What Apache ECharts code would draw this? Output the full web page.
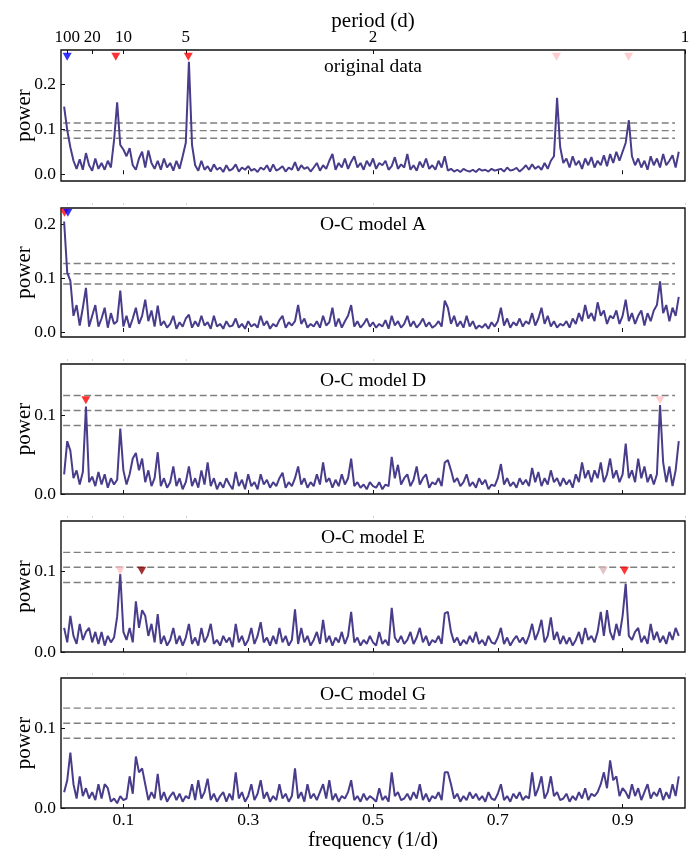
<!DOCTYPE html>
<html><head><meta charset="utf-8">
<script src="https://cdn.jsdelivr.net/npm/echarts@6/dist/echarts.min.js"></script>
<style>html,body{margin:0;padding:0;background:#fff}#c{width:697px;height:849px}</style>
</head><body><div id="c"></div>
<script>
// ---------- DATA ----------
// frequency grid of the periodograms (1/d): 0.005 ... 0.990, step 0.005
const freqStart = 0.005, freqStep = 0.005, freqCount = 198;

const powerOriginal = [
0.150,0.098,0.060,0.030,0.012,0.033,0.010,0.047,0.020,0.008,
0.035,0.012,0.025,0.010,0.030,0.015,0.075,0.160,0.065,0.055,
0.040,0.058,0.020,0.010,0.035,0.050,0.015,0.053,0.025,0.012,
0.030,0.010,0.035,0.015,0.025,0.008,0.030,0.012,0.040,0.070,
0.250,0.065,0.020,0.008,0.030,0.010,0.018,0.006,0.022,0.010,
0.015,0.005,0.020,0.008,0.012,0.022,0.006,0.015,0.010,0.018,
0.008,0.012,0.005,0.015,0.010,0.020,0.006,0.022,0.008,0.012,
0.018,0.006,0.015,0.010,0.027,0.008,0.020,0.012,0.016,0.006,
0.015,0.025,0.008,0.020,0.012,0.030,0.045,0.010,0.025,0.015,
0.035,0.012,0.028,0.040,0.015,0.025,0.010,0.030,0.018,0.035,
0.012,0.025,0.020,0.030,0.010,0.018,0.038,0.012,0.022,0.015,
0.045,0.010,0.020,0.008,0.028,0.015,0.035,0.012,0.020,0.010,
0.030,0.015,0.040,0.008,0.012,0.006,0.010,0.005,0.012,0.008,
0.006,0.010,0.005,0.012,0.008,0.010,0.006,0.012,0.008,0.010,
0.012,0.006,0.015,0.008,0.010,0.014,0.006,0.012,0.020,0.010,
0.022,0.012,0.018,0.010,0.025,0.012,0.030,0.040,0.170,0.060,
0.025,0.035,0.015,0.040,0.020,0.030,0.012,0.035,0.020,0.038,
0.015,0.030,0.020,0.042,0.018,0.045,0.025,0.050,0.030,0.050,
0.070,0.120,0.040,0.020,0.035,0.015,0.030,0.010,0.040,0.020,
0.035,0.015,0.045,0.020,0.030,0.042,0.015,0.050];

const powerModelA = [
0.205,0.110,0.095,0.030,0.050,0.012,0.045,0.082,0.010,0.030,
0.050,0.010,0.025,0.045,0.008,0.035,0.015,0.020,0.077,0.010,
0.030,0.008,0.025,0.045,0.015,0.030,0.060,0.020,0.040,0.010,
0.049,0.012,0.020,0.008,0.015,0.030,0.006,0.018,0.010,0.025,
0.032,0.008,0.020,0.010,0.030,0.012,0.018,0.006,0.030,0.010,
0.015,0.006,0.020,0.010,0.012,0.025,0.008,0.015,0.006,0.020,
0.010,0.015,0.008,0.030,0.012,0.020,0.006,0.015,0.010,0.022,
0.030,0.008,0.018,0.012,0.020,0.050,0.015,0.025,0.008,0.015,
0.010,0.020,0.008,0.030,0.012,0.018,0.045,0.010,0.025,0.008,
0.020,0.030,0.050,0.010,0.020,0.008,0.015,0.025,0.010,0.018,
0.008,0.015,0.010,0.022,0.006,0.030,0.012,0.020,0.008,0.015,
0.030,0.010,0.020,0.008,0.015,0.025,0.010,0.018,0.008,0.012,
0.020,0.010,0.058,0.045,0.015,0.030,0.010,0.020,0.008,0.030,
0.010,0.020,0.006,0.012,0.008,0.015,0.006,0.018,0.010,0.020,
0.045,0.012,0.025,0.008,0.018,0.012,0.025,0.010,0.020,0.015,
0.035,0.012,0.025,0.045,0.015,0.030,0.010,0.020,0.008,0.015,
0.012,0.020,0.008,0.025,0.015,0.035,0.020,0.050,0.025,0.035,
0.020,0.055,0.030,0.040,0.015,0.030,0.025,0.040,0.015,0.030,
0.060,0.020,0.035,0.015,0.030,0.040,0.012,0.035,0.020,0.040,
0.050,0.094,0.035,0.050,0.020,0.045,0.030,0.065];

const powerModelD = [
0.025,0.067,0.055,0.020,0.030,0.012,0.028,0.111,0.015,0.022,
0.010,0.028,0.012,0.025,0.008,0.020,0.012,0.018,0.083,0.030,
0.012,0.025,0.045,0.052,0.030,0.045,0.015,0.030,0.010,0.020,
0.053,0.010,0.020,0.008,0.015,0.035,0.010,0.020,0.006,0.015,
0.035,0.010,0.020,0.008,0.030,0.012,0.040,0.010,0.020,0.006,
0.015,0.008,0.020,0.012,0.006,0.028,0.010,0.018,0.006,0.025,
0.010,0.015,0.006,0.025,0.012,0.018,0.008,0.015,0.010,0.020,
0.027,0.008,0.015,0.010,0.020,0.035,0.012,0.020,0.008,0.015,
0.010,0.025,0.012,0.040,0.015,0.020,0.008,0.018,0.010,0.025,
0.012,0.020,0.045,0.010,0.015,0.008,0.012,0.006,0.015,0.010,
0.008,0.015,0.006,0.012,0.010,0.047,0.020,0.037,0.012,0.020,
0.025,0.010,0.018,0.035,0.012,0.020,0.025,0.008,0.015,0.012,
0.020,0.010,0.040,0.043,0.030,0.015,0.020,0.010,0.015,0.025,
0.010,0.015,0.008,0.020,0.012,0.018,0.006,0.012,0.010,0.020,
0.038,0.012,0.020,0.010,0.015,0.008,0.020,0.012,0.018,0.010,
0.033,0.015,0.028,0.010,0.020,0.012,0.030,0.015,0.020,0.010,
0.020,0.012,0.018,0.008,0.025,0.015,0.040,0.020,0.030,0.015,
0.030,0.020,0.040,0.015,0.025,0.045,0.020,0.030,0.015,0.025,
0.064,0.020,0.030,0.015,0.045,0.020,0.035,0.015,0.025,0.012,
0.025,0.113,0.040,0.015,0.035,0.010,0.030,0.067];

const powerModelE = [
0.030,0.012,0.045,0.020,0.010,0.035,0.015,0.025,0.030,0.012,
0.025,0.010,0.025,0.008,0.020,0.012,0.018,0.044,0.097,0.025,
0.015,0.030,0.012,0.063,0.030,0.052,0.045,0.020,0.035,0.012,
0.047,0.010,0.020,0.008,0.015,0.030,0.010,0.020,0.008,0.018,
0.035,0.010,0.018,0.008,0.030,0.012,0.020,0.035,0.010,0.015,
0.008,0.020,0.012,0.018,0.006,0.035,0.012,0.020,0.008,0.015,
0.030,0.010,0.020,0.037,0.012,0.018,0.008,0.020,0.010,0.030,
0.012,0.020,0.008,0.015,0.053,0.010,0.030,0.012,0.020,0.008,
0.015,0.025,0.010,0.040,0.012,0.020,0.008,0.018,0.012,0.025,
0.010,0.020,0.050,0.012,0.018,0.008,0.015,0.010,0.020,0.012,
0.008,0.025,0.010,0.015,0.008,0.055,0.018,0.012,0.020,0.010,
0.015,0.025,0.010,0.018,0.030,0.012,0.020,0.008,0.015,0.012,
0.020,0.010,0.048,0.050,0.025,0.012,0.018,0.008,0.015,0.010,
0.020,0.012,0.025,0.010,0.015,0.008,0.020,0.012,0.010,0.018,
0.030,0.010,0.018,0.008,0.015,0.020,0.012,0.018,0.010,0.020,
0.035,0.015,0.025,0.040,0.012,0.020,0.043,0.015,0.025,0.010,
0.020,0.010,0.018,0.008,0.015,0.025,0.010,0.030,0.015,0.020,
0.012,0.025,0.050,0.020,0.052,0.025,0.015,0.035,0.020,0.045,
0.085,0.020,0.015,0.025,0.030,0.012,0.020,0.010,0.035,0.015,
0.025,0.012,0.020,0.010,0.025,0.015,0.030,0.020];

const powerModelG = [
0.020,0.035,0.070,0.030,0.012,0.040,0.015,0.025,0.012,0.020,
0.010,0.030,0.012,0.030,0.025,0.008,0.012,0.006,0.015,0.010,
0.012,0.040,0.018,0.065,0.045,0.050,0.030,0.010,0.020,0.012,
0.043,0.010,0.020,0.008,0.015,0.020,0.010,0.018,0.008,0.015,
0.012,0.030,0.010,0.035,0.012,0.020,0.037,0.010,0.018,0.008,
0.015,0.020,0.008,0.018,0.010,0.045,0.012,0.020,0.008,0.015,
0.030,0.010,0.018,0.035,0.012,0.020,0.008,0.015,0.010,0.030,
0.012,0.018,0.008,0.015,0.050,0.012,0.020,0.008,0.030,0.012,
0.018,0.010,0.020,0.030,0.012,0.035,0.010,0.018,0.008,0.015,
0.012,0.020,0.035,0.010,0.015,0.008,0.018,0.010,0.015,0.012,
0.008,0.025,0.010,0.015,0.008,0.045,0.015,0.020,0.010,0.012,
0.018,0.010,0.020,0.012,0.030,0.010,0.018,0.008,0.015,0.012,
0.020,0.010,0.045,0.045,0.030,0.012,0.018,0.008,0.015,0.010,
0.020,0.012,0.018,0.010,0.015,0.008,0.020,0.012,0.010,0.018,
0.030,0.010,0.015,0.008,0.018,0.012,0.020,0.010,0.015,0.012,
0.045,0.015,0.025,0.040,0.012,0.020,0.040,0.015,0.020,0.010,
0.012,0.018,0.008,0.015,0.010,0.020,0.012,0.025,0.010,0.018,
0.015,0.020,0.030,0.045,0.025,0.060,0.035,0.040,0.015,0.025,
0.020,0.012,0.030,0.015,0.025,0.010,0.020,0.030,0.012,0.020,
0.015,0.025,0.010,0.020,0.012,0.030,0.015,0.040];

const panelTitles = ['original data','O-C model A','O-C model D','O-C model E','O-C model G'];
const panelPowers = [powerOriginal, powerModelA, powerModelD, powerModelE, powerModelG];

// false-alarm levels (dashed lines)
const fapOriginal = [0.114, 0.097, 0.080];
const fapModelA   = [0.127, 0.108, 0.089];
const fapModelD   = [0.125, 0.106, 0.087];
const fapModelE   = [0.124, 0.1055, 0.0865];
const fapModelG   = [0.126, 0.107, 0.088];
const fapFreqRange = [0.0035, 0.984];

// triangle markers
const markFreqOriginal = [0.0099, 0.0878, 0.204, 0.794, 0.9096];
const markFreqModelA   = [0.0056, 0.011];
const markFreqModelD   = [0.0398, 0.96];
const markFreqModelE   = [0.0947, 0.1294, 0.869, 0.903];
const markFreqModelG   = [];
const markPower = [0.261, 0.221, 0.119, 0.101, 0];
const markColorOriginal = ['#0000ff','#ff0000','#ff0000','#ffc0c0','#ffc0c0'];
const markColorModelA   = ['#ff0000','#0000ff'];
const markColorModelD   = ['#ff0000','#ffc0c0'];
const markColorModelE   = ['#ffc0c0','#8b0000','#dcb4b4','#ff0000'];
const markColorModelG   = [];

// ticks
const periodTicks = [100, 20, 10, 5, 2, 1];
const freqTicks = [0.1, 0.3, 0.5, 0.7, 0.9];
const powerTicksOriginal = [0, 0.1, 0.2];
const powerTicksModelA = [0, 0.1, 0.2];
const powerTicksOther = [0, 0.1];

// ---------- LAYOUT / STYLE ----------
const fapLevels = [fapOriginal, fapModelA, fapModelD, fapModelE, fapModelG];
const markFreqs = [markFreqOriginal, markFreqModelA, markFreqModelD, markFreqModelE, markFreqModelG];
const markColors = [markColorOriginal, markColorModelA, markColorModelD, markColorModelE, markColorModelG];
const powerTicks = [powerTicksOriginal, powerTicksModelA, powerTicksOther, powerTicksOther, powerTicksOther];
const yMin = [-0.015, -0.0093, 0, 0, 0];
const yMax = [0.276, 0.23, 0.165, 0.163, 0.164];
const gridLeft = 61, gridWidth = 624;
const gridTops = [50, 208, 364, 521, 678];
const gridHeights = [131, 129, 130, 131, 130];
const FONT = "'Liberation Serif','Times New Roman',serif";

const freq = [];
for (let k = 0; k < freqCount; k++) freq.push(+(freqStart + k * freqStep).toFixed(3));
const periodFreqs = periodTicks.map(p => 1 / p);

const grids = [], xAxes = [], yAxes = [], series = [], graphics = [];
for (let i = 0; i < 5; i++) {
  grids.push({left: gridLeft, width: gridWidth, top: gridTops[i], height: gridHeights[i],
    containLabel: false, outerBoundsMode: 'none',
    show: true, borderColor: '#111', borderWidth: 1.4, backgroundColor: 'transparent'});
  // bottom frequency axis
  xAxes.push({gridIndex: i, type: 'value', position: 'bottom', min: 0, max: 1,
    axisLine: {show: false}, splitLine: {show: false},
    axisTick: {show: true, inside: true, length: 4, customValues: freqTicks, lineStyle: {color: '#111', width: 1}},
    axisLabel: {show: i === 4, customValues: freqTicks, formatter: v => v.toFixed(1),
      fontFamily: FONT, fontSize: 17.5, color: '#000', margin: 3},
    name: i === 4 ? 'frequency (1/d)' : '', nameLocation: 'middle', nameGap: 22, nameMoveOverlap: false,
    nameTextStyle: {fontFamily: FONT, fontSize: 21, color: '#000'}});
  // top period axis
  xAxes.push({gridIndex: i, type: 'value', position: 'top', min: 0, max: 1,
    offset: i === 0 ? 0 : 3,
    axisLine: {show: false}, splitLine: {show: false},
    axisTick: {show: true, inside: i === 0, length: i === 0 ? 4 : 2, customValues: periodFreqs,
      lineStyle: {color: i === 0 ? '#111' : '#d4d4d4', width: 1}},
    axisLabel: {show: i === 0, customValues: periodFreqs, formatter: v => String(Math.round(1 / v)),
      fontFamily: FONT, fontSize: 17, color: '#000', margin: 4},
    name: i === 0 ? 'period (d)' : '', nameLocation: 'middle', nameGap: 18, nameMoveOverlap: false,
    nameTextStyle: {fontFamily: FONT, fontSize: 21, color: '#000'}});
  yAxes.push({gridIndex: i, type: 'value', min: yMin[i], max: yMax[i],
    axisLine: {show: false}, splitLine: {show: false},
    axisTick: {show: true, inside: true, length: 4, customValues: powerTicks[i], lineStyle: {color: '#111', width: 1}},
    axisLabel: {customValues: powerTicks[i], formatter: v => v.toFixed(1),
      fontFamily: FONT, fontSize: 17.5, color: '#000', margin: 5},
    name: 'power', nameLocation: 'middle', nameGap: 26, nameMoveOverlap: false,
    nameTextStyle: {fontFamily: FONT, fontSize: 21, color: '#000'}});

  series.push({type: 'line', xAxisIndex: 2 * i, yAxisIndex: i, symbol: 'none', z: 3,
    data: freq.map((f, k) => [f, panelPowers[i][k]]),
    lineStyle: {color: '#483d8b', width: 2}});
  fapLevels[i].forEach(lv => series.push({type: 'line', xAxisIndex: 2 * i, yAxisIndex: i, symbol: 'none', z: 2,
    data: [[fapFreqRange[0], lv], [fapFreqRange[1], lv]],
    lineStyle: {color: '#7f7f7f', width: 1.4, type: [7, 3.5]}}));
  if (markFreqs[i].length) series.push({type: 'scatter', xAxisIndex: 2 * i, yAxisIndex: i, z: 5,
    symbol: 'triangle', symbolRotate: 180, symbolSize: [9, 8],
    data: markFreqs[i].map((f, k) => ({value: [f, markPower[i]], itemStyle: {color: markColors[i][k]}}))});

  graphics.push({type: 'text', x: gridLeft + gridWidth * 0.5, y: gridTops[i] + 7,
    style: {text: panelTitles[i], fontFamily: FONT, fontSize: 19.5, fill: '#000',
      textAlign: 'center', textVerticalAlign: 'top'}});
}

const chart = echarts.init(document.getElementById('c'), null, {renderer: 'canvas'});
chart.setOption({animation: false, backgroundColor: '#fff',
  grid: grids, xAxis: xAxes, yAxis: yAxes, series: series, graphic: graphics});
</script></body></html>
